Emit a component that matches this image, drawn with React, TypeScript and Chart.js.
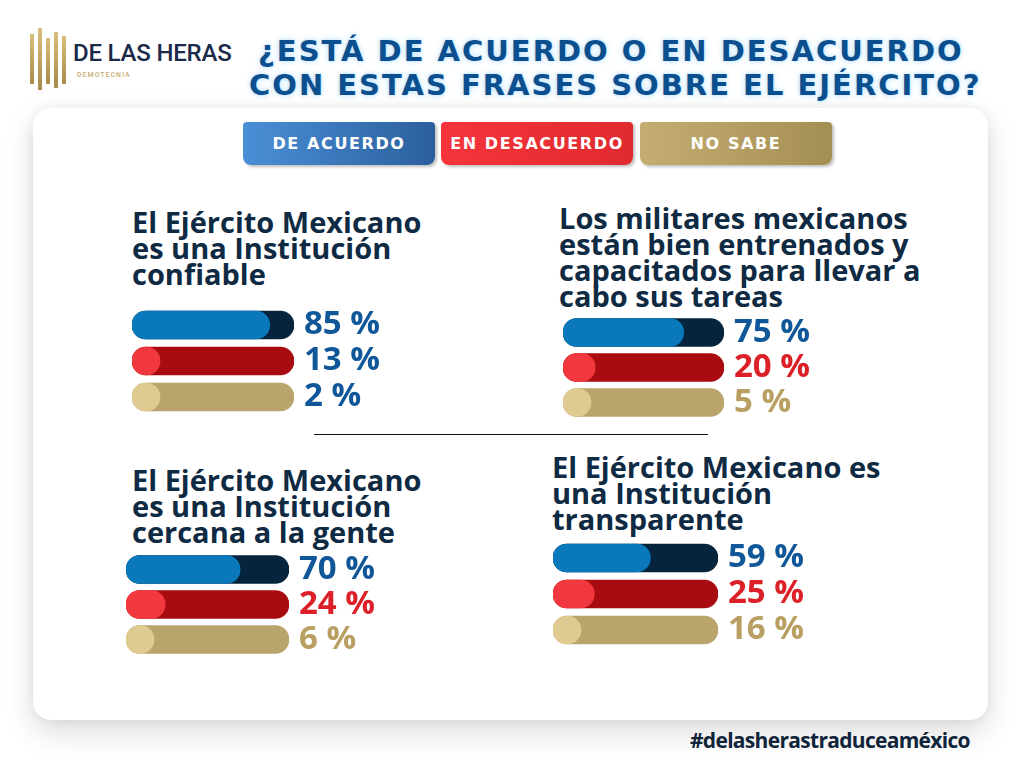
import React, { useEffect, useRef } from "react";
import { Chart, registerables } from "chart.js";

Chart.register(...registerables);

// ---- Data ----
const categories = ["De acuerdo", "En desacuerdo", "No sabe"];
const legendLabels = ["DE ACUERDO", "EN DESACUERDO", "NO SABE"];

const statement1 = ["El Ejército Mexicano", "es una Institución", "confiable"];
const values1 = [85, 13, 2];

const statement2 = [
  "Los militares mexicanos",
  "están bien entrenados y",
  "capacitados para llevar a",
  "cabo sus tareas",
];
const values2 = [75, 20, 5];

const statement3 = ["El Ejército Mexicano", "es una Institución", "cercana a la gente"];
const values3 = [70, 24, 6];

const statement4 = ["El Ejército Mexicano es", "una Institución", "transparente"];
const values4 = [59, 25, 16];

const trackValues = [100, 100, 100];

// ---- Styles ----
const NAVY_TEXT = "#0f2a43";
const valueColors = ["#0a79bb", "#f2383f", "#dfcb92"];
const trackColors = ["#06243b", "#a90c10", "#b9a56c"];
const pctBlue = "#0f5798";
const pctRed = "#db2027";
const pctTan = "#b9a062";

type PanelProps = {
  values: number[];
  left: number;
  top: number;
  trackW: number;
  step: number;
  labelColors: string[];
};

function BarPanel({ values, left, top, trackW, step, labelColors }: PanelProps) {
  const ref = useRef<HTMLCanvasElement | null>(null);
  const LABEL_W = 110;
  const width = trackW + LABEL_W;
  const height = step * 3;
  useEffect(() => {
    if (!ref.current) return;
    const chart = new Chart(ref.current, {
      type: "bar",
      data: {
        labels: categories,
        datasets: [
          {
            label: "valor",
            data: values,
            backgroundColor: valueColors,
            borderRadius: 14,
            borderSkipped: false,
            barThickness: 28,
            grouped: false,
            minBarLength: 28,
          },
          {
            label: "total",
            data: trackValues,
            backgroundColor: trackColors,
            borderRadius: 14,
            borderSkipped: false,
            barThickness: 28,
            grouped: false,
          },
        ],
      },
      options: {
        indexAxis: "y",
        animation: false,
        responsive: false,
        maintainAspectRatio: false,
        layout: { padding: 0 },
        plugins: { legend: { display: false }, tooltip: { enabled: false } },
        scales: {
          x: { display: false, min: 0, max: 100 },
          y: {
            position: "right",
            grid: { display: false },
            border: { display: false },
            ticks: {
              padding: 2,
              autoSkip: false,
              color: (ctx: any) => labelColors[ctx.index],
              font: { family: "'Open Sans'", weight: "bold", size: 33, lineHeight: 1 },
              callback: (_v: any, i: number) => `${values[i]} %`,
            },
            afterFit: (s: any) => {
              s.width = LABEL_W;
              s.paddingTop = 0;
              s.paddingBottom = 0;
            },
          },
        },
      },
    });
    return () => chart.destroy();
  }, []);
  return (
    <div style={{ position: "absolute", left, top, width, height }}>
      <canvas ref={ref} width={width} height={height} style={{ width, height, display: "block" }} />
    </div>
  );
}

function Statement({ lines, left, top }: { lines: string[]; left: number; top: number }) {
  return (
    <div
      style={{
        position: "absolute",
        left,
        top,
        fontFamily: "'Open Sans'",
        fontWeight: 700,
        fontSize: 29,
        lineHeight: "26px",
        color: NAVY_TEXT,
        whiteSpace: "nowrap",
      }}
    >
      {lines.map((l, i) => (
        <div key={i}>{l}</div>
      ))}
    </div>
  );
}

export default function App() {
  const legendBg = [
    "linear-gradient(90deg,#4a8fd6,#2b5f9d)",
    "linear-gradient(90deg,#f5353b,#e02a2f)",
    "linear-gradient(90deg,#c4ad70,#a48f52)",
  ];
  const legendLeft = [243, 441, 640];
  const titleStyle: React.CSSProperties = {
    fontFamily: "'DejaVu Sans'",
    fontWeight: 700,
    fontSize: 29,
    letterSpacing: 2,
    color: "#0b4f8e",
    textShadow: "0 0 3px #bfe3fb, 0 0 6px #bfe3fb",
    whiteSpace: "nowrap",
    position: "absolute",
    lineHeight: "33px",
  };
  return (
    <div
      style={{
        position: "fixed",
        left: 0,
        top: 0,
        width: 1024,
        height: 768,
        background: "#ffffff",
        overflow: "hidden",
      }}
    >
      {/* logo */}
      <div style={{ position: "absolute", left: 30, top: 28, width: 42, height: 62 }}>
        {[0, 8, 16, 24, 32].map((x, i) => (
          <div
            key={i}
            style={{
              position: "absolute",
              left: x,
              top: [6, 0, 10, 4, 8][i],
              width: 4,
              height: [50, 62, 46, 56, 48][i],
              background: "linear-gradient(180deg,#d9bf7e,#a88a4c)",
            }}
          />
        ))}
      </div>
      <div
        style={{
          position: "absolute",
          left: 73,
          top: 39,
          fontFamily: "Roboto",
          fontWeight: 500,
          fontSize: 24,
          letterSpacing: -0.2,
          color: "#1b2a48",
          whiteSpace: "nowrap",
        }}
      >
        DE LAS HERAS
      </div>
      <div
        style={{
          position: "absolute",
          left: 77,
          top: 71,
          fontFamily: "Roboto",
          fontWeight: 500,
          fontSize: 7,
          letterSpacing: 1,
          color: "#c9ad74",
        }}
      >
        DEMOTECNIA
      </div>

      {/* title */}
      <div style={{ ...titleStyle, left: 258, top: 35 }}>¿ESTÁ DE ACUERDO O EN DESACUERDO</div>
      <div style={{ ...titleStyle, left: 249, top: 69 }}>CON ESTAS FRASES SOBRE EL EJÉRCITO?</div>

      {/* card */}
      <div
        style={{
          position: "absolute",
          left: 33,
          top: 108,
          width: 955,
          height: 612,
          background: "#ffffff",
          borderRadius: 18,
          boxShadow: "0 12px 30px rgba(0,0,0,0.14), 0 0 12px rgba(0,0,0,0.06)",
        }}
      />

      {/* legend */}
      {legendLabels.map((t, i) => (
        <div
          key={t}
          style={{
            position: "absolute",
            left: legendLeft[i],
            top: 122,
            width: 192,
            height: 43,
            borderRadius: "4px 4px 8px 8px",
            background: legendBg[i],
            color: "#ffffff",
            fontFamily: "'DejaVu Sans'",
            fontWeight: 700,
            fontSize: 16,
            letterSpacing: 1.6,
            display: "flex",
            alignItems: "center",
            justifyContent: "center",
            boxShadow: "2px 2px 3px rgba(0,0,0,0.25)",
          }}
        >
          {t}
        </div>
      ))}

      {/* statements */}
      <Statement lines={statement1} left={132} top={209} />
      <Statement lines={statement2} left={559} top={205} />
      <Statement lines={statement3} left={132} top={467} />
      <Statement lines={statement4} left={552} top={454} />

      {/* bars */}
      <BarPanel values={values1} left={132} top={307} trackW={162} step={36} labelColors={[pctBlue, pctBlue, pctBlue]} />
      <BarPanel values={values2} left={563} top={314.5} trackW={161} step={35} labelColors={[pctBlue, pctRed, pctTan]} />
      <BarPanel values={values3} left={126} top={551.5} trackW={163} step={35} labelColors={[pctBlue, pctRed, pctTan]} />
      <BarPanel values={values4} left={553} top={540} trackW={165} step={36} labelColors={[pctBlue, pctRed, pctTan]} />

      {/* divider */}
      <div style={{ position: "absolute", left: 314, top: 434, width: 394, height: 1, background: "#111" }} />

      {/* hashtag */}
      <div
        style={{
          position: "absolute",
          left: 690,
          top: 726,
          fontFamily: "'Open Sans'",
          fontWeight: 700,
          fontSize: 21,
          letterSpacing: -0.7,
          color: "#10243a",
          whiteSpace: "nowrap",
        }}
      >
        #delasherastraduceaméxico
      </div>
    </div>
  );
}
